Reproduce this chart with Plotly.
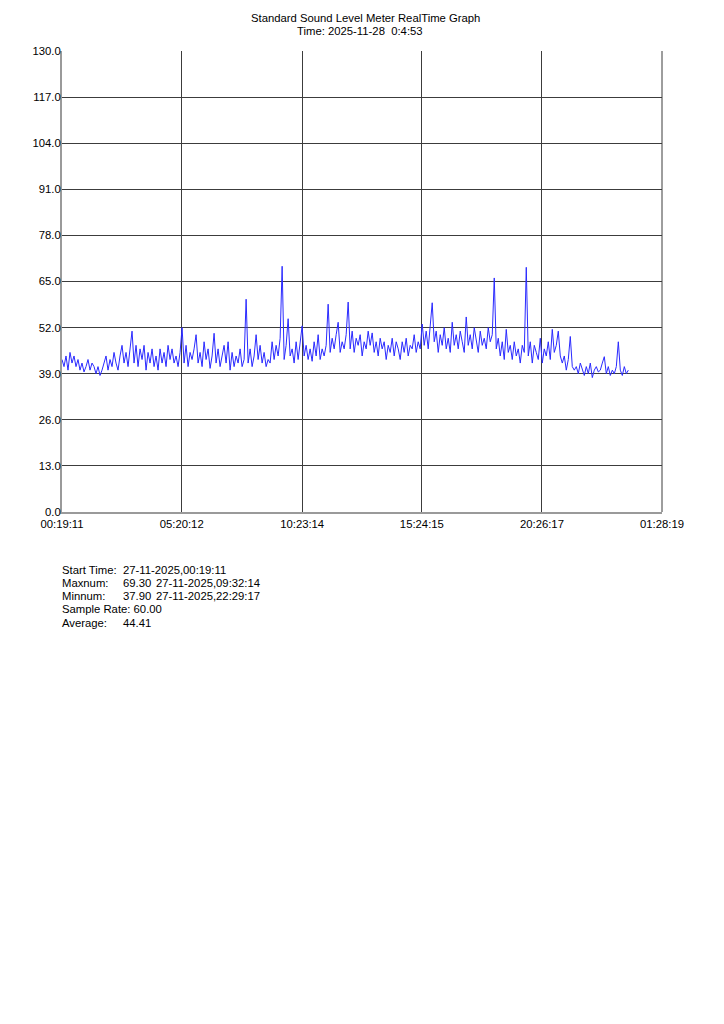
import pandas as pd
import plotly.graph_objects as go

# ---------------- data ----------------
start_time = "2025-11-27 00:19:11"
sample_step_s = 302  # spacing of the plotted samples (seconds)

levels_db = [
    43, 41, 44, 40, 45, 42, 44, 41, 43, 40, 42, 39.5, 41, 43, 40, 42, 41,
    39, 41, 38.5, 40, 42,
    44, 40, 43, 41, 45, 42, 40, 44,
    47, 42, 45, 41, 46,
    51,
    42, 47, 41, 46, 43, 47, 40, 45, 42, 46, 41,
    44, 40, 46, 42, 45, 41, 47, 43, 46, 42, 44, 41, 45,
    52,
    42, 47, 41, 45, 43, 46, 50, 42, 45, 41, 48, 43, 46, 40.5, 44,
    50.4,
    42, 46, 41, 44, 47, 42, 48, 40, 45, 41, 44, 42, 46, 41, 43,
    60,
    42, 46, 41, 44, 50, 43, 47, 42, 45, 41, 43, 42,
    48, 43, 47, 44, 49,
    69.3,
    43, 47, 54.5, 44, 46, 42, 48, 43, 47,
    52.5,
    44, 47, 43, 46, 42.5, 48, 44, 50, 43, 46, 44, 47,
    58.6,
    45, 49, 46, 50, 53.5, 45, 48, 46, 50,
    59.2,
    46, 51, 45, 49, 47, 50, 44, 48, 46, 51, 47,
    50.5, 45, 48, 44, 49, 46, 48, 43, 47, 45,
    49, 44, 48, 46, 43, 48, 45, 49, 44, 47,
    46, 50, 45, 48, 46,
    53,
    47, 51, 46, 54,
    59,
    48, 51, 45, 50, 47, 52, 46, 49, 45, 53.5,
    47, 50, 46, 51, 48, 45, 55, 47, 50, 46,
    52, 48, 45, 51, 47, 49, 46, 52, 48, 50,
    66,
    46, 49, 44, 48, 43, 51.5, 45, 47, 43, 48, 44, 46, 42, 47, 45,
    69,
    44, 48, 42, 47, 45, 43, 49, 42, 46, 44, 48, 43, 51.5, 45, 47, 51, 44,
    42, 44, 40, 43, 49.5, 41, 40,
    41, 39, 42, 40, 38.5, 41, 39, 42, 37.9, 40,
    41, 39.5, 40, 42, 43.8, 39, 41, 38.5, 40, 39,
    41, 48, 40, 38.5, 41, 39, 40,
]

x_tick_times = [
    "2025-11-27 00:19:11", "2025-11-27 05:20:12", "2025-11-27 10:23:14",
    "2025-11-27 15:24:15", "2025-11-27 20:26:17", "2025-11-28 01:28:19",
]
x_tick_labels = ["00:19:11", "05:20:12", "10:23:14", "15:24:15", "20:26:17", "01:28:19"]

y_ticks = [0, 13, 26, 39, 52, 65, 78, 91, 104, 117, 130]

title_line1 = "Standard Sound Level Meter RealTime Graph"
title_line2 = "Time: 2025-11-28\u00a0\u00a00:4:53"

stats_labels = ["Start Time:", "Maxnum:", "Minnum:", "Sample Rate: 60.00", "Average:"]
stats_values = ["27-11-2025,00:19:11", "69.30", "37.90", "", "44.41"]
stats_dates = ["", "27-11-2025,09:32:14", "27-11-2025,22:29:17", "", ""]

# ---------------- figure ----------------
times = pd.date_range(start=start_time, periods=len(levels_db), freq=f"{sample_step_s}s")

FONT = "Liberation Sans, Arial, sans-serif"
FS = 11.3
OFF = 8  # page body margin
W, H = 724, 1024
L, R, T, B = 62 - OFF, 662 - OFF, 51 - OFF, 512 - OFF  # plot area in figure px

fig = go.Figure()
fig.add_trace(go.Scatter(
    x=times, y=levels_db, mode="lines",
    line=dict(color="#2a2aff", width=1),
    showlegend=False, hoverinfo="x+y",
))

fig.update_layout(
    width=W, height=H,
    margin=dict(l=L, r=W - R, t=T, b=H - B, pad=0),
    paper_bgcolor="white", plot_bgcolor="white",
    font=dict(family=FONT, size=FS, color="black"),
    showlegend=False,
)

fig.update_xaxes(
    range=[x_tick_times[0], x_tick_times[-1]],
    tickvals=x_tick_times, ticktext=x_tick_labels,
    showgrid=True, gridcolor="#3c3c3c", gridwidth=1,
    showline=True, linecolor="#9a9a9a", linewidth=2,
    ticks="", ticklabelstandoff=0,
    tickfont=dict(family=FONT, size=FS, color="black"),
    zeroline=False, mirror=False,
)
fig.update_yaxes(
    range=[0, 130], tickvals=y_ticks, ticktext=[f"{v:.1f}" for v in y_ticks],
    showgrid=True, gridcolor="#3c3c3c", gridwidth=1,
    showline=True, linecolor="#9a9a9a", linewidth=2,
    ticks="", ticklabelstandoff=-3,
    tickfont=dict(family=FONT, size=FS, color="black"),
    zeroline=False,
)

# right border of the plot area (last vertical grid line)
fig.add_shape(type="line", xref="paper", yref="paper", x0=1, x1=1, y0=0, y1=1,
              line=dict(color="#3c3c3c", width=1))


def px_x(p):
    return (p - OFF - L) / (R - L)


def px_y(p):
    return (B - (p - OFF)) / (B - T)


anns = [
    dict(text=title_line1, x=px_x(365.5), y=px_y(18), xanchor="center", yanchor="middle"),
    dict(text=title_line2, x=px_x(360), y=px_y(31), xanchor="center", yanchor="middle"),
]
row_y = [570, 583, 596, 609, 623]
for lab, val, dt, yy in zip(stats_labels, stats_values, stats_dates, row_y):
    anns.append(dict(text=lab, x=px_x(60), y=px_y(yy), xanchor="left", yanchor="middle"))
    if val:
        anns.append(dict(text=val, x=px_x(121), y=px_y(yy), xanchor="left", yanchor="middle"))
    if dt:
        anns.append(dict(text=dt, x=px_x(154), y=px_y(yy), xanchor="left", yanchor="middle"))

for a in anns:
    a.update(xref="paper", yref="paper", showarrow=False,
             font=dict(family=FONT, size=FS, color="black"))
fig.update_layout(annotations=anns)

fig.write_html("out.html")
